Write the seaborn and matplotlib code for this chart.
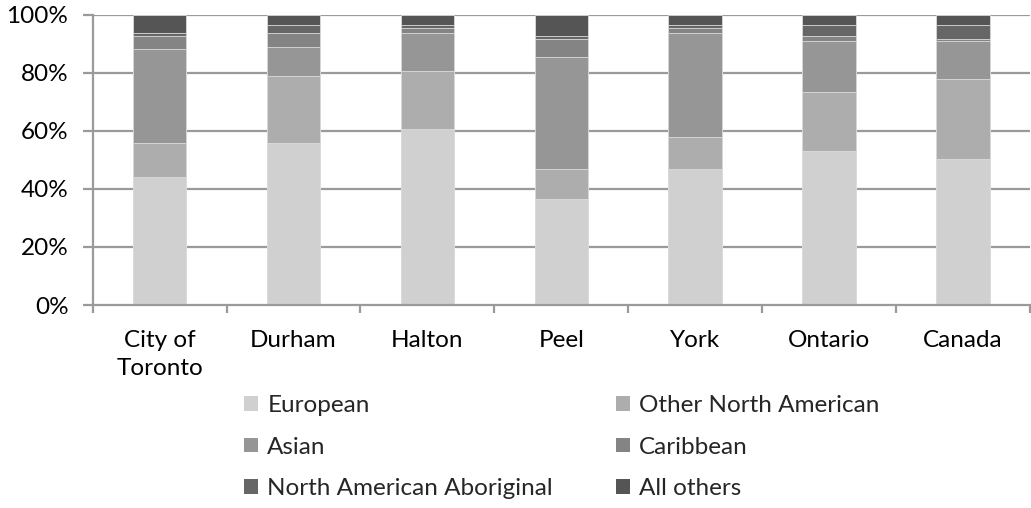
import matplotlib
matplotlib.use("Agg")
import matplotlib.pyplot as plt
from matplotlib.patches import Patch
from matplotlib.ticker import FixedLocator, PercentFormatter
import numpy as np
import pandas as pd
import seaborn as sns

# Share of population by ethnic origin (%), bottom to top of each stack
regions = ["City of\nToronto", "Durham", "Halton", "Peel", "York", "Ontario", "Canada"]
european = [44.0, 56.0, 60.6, 36.6, 46.8, 53.1, 50.3]
other_north_american = [12.0, 23.0, 20.1, 10.3, 11.1, 20.3, 27.7]
asian = [32.2, 10.0, 13.0, 38.5, 35.8, 17.6, 13.0]
caribbean = [4.6, 4.7, 1.7, 6.3, 1.7, 1.8, 0.6]
aboriginal = [0.9, 2.9, 1.2, 1.1, 1.2, 3.8, 5.0]
all_others = [6.3, 3.4, 3.4, 7.2, 3.4, 3.4, 3.4]

series_names = ["European", "Other North American", "Asian", "Caribbean",
                "North American Aboriginal", "All others"]
series_values = [european, other_north_american, asian, caribbean, aboriginal, all_others]
series_colors = ["#d0d0d0", "#adadad", "#969696", "#848484", "#666666", "#555555"]

sns.set_theme(style="white")
plt.rcParams["font.family"] = ["Lato", "DejaVu Sans"]
plt.rcParams["font.size"] = 17.5

df = pd.DataFrame(dict(zip(series_names, series_values)), index=regions)
cum = df.cumsum(axis=1)

fig = plt.figure(figsize=(10.31, 5.08), dpi=100)
ax = fig.add_axes([0.0899, 0.3996, 0.9091, 0.5709])

grid_c = "#9a9a9a"
for y in [20, 40, 60, 80, 100]:
    ax.axhline(y, color=grid_c, lw=1.6, zorder=0)

# draw cumulative totals from the top series downwards so each layer shows its own segment
for name, color in reversed(list(zip(series_names, series_colors))):
    sns.barplot(x=list(df.index), y=cum[name].values, color=color, width=0.4,
                edgecolor="#dcdcdc", linewidth=0.6, ax=ax, zorder=2)

ax.set_ylim(0, 100)
ax.set_xlim(-0.5, len(regions) - 0.5)
ax.set_xlabel("")
ax.set_ylabel("")
ax.yaxis.set_major_locator(FixedLocator([0, 20, 40, 60, 80, 100]))
ax.yaxis.set_major_formatter(PercentFormatter(decimals=0))

for side in ["top", "right"]:
    ax.spines[side].set_visible(False)
for side in ["left", "bottom"]:
    ax.spines[side].set_color(grid_c)
    ax.spines[side].set_linewidth(1.6)

ax.tick_params(axis="y", which="major", left=True, length=7.5, width=1.6,
               color=grid_c, pad=10, labelsize=17.5, labelcolor="black")
ax.tick_params(axis="x", which="major", bottom=False, length=0, pad=18,
               labelsize=17.5, labelcolor="black")
ax.set_xticks(np.arange(-0.5, len(regions), 1.0), minor=True)
ax.tick_params(axis="x", which="minor", bottom=True, length=5.5, width=1.6, color=grid_c)
for lbl in ax.get_xticklabels():
    lbl.set_linespacing(1.4)

# legend laid out in rows: European / Other NA, Asian / Caribbean, Aboriginal / All others
handles = {n: Patch(facecolor=c, edgecolor="none") for n, c in zip(series_names, series_colors)}
order = ["European", "Asian", "North American Aboriginal",
         "Other North American", "Caribbean", "All others"]
fig.legend([handles[n] for n in order], order, ncol=2, loc="center",
           bbox_to_anchor=(562 / 1031, 1 - 447 / 508), frameon=False,
           fontsize=17.5, handlelength=0.55, handleheight=0.55, handletextpad=0.4,
           columnspacing=2.6, labelspacing=0.85, borderpad=0)

fig.savefig("out.png", dpi=100)
